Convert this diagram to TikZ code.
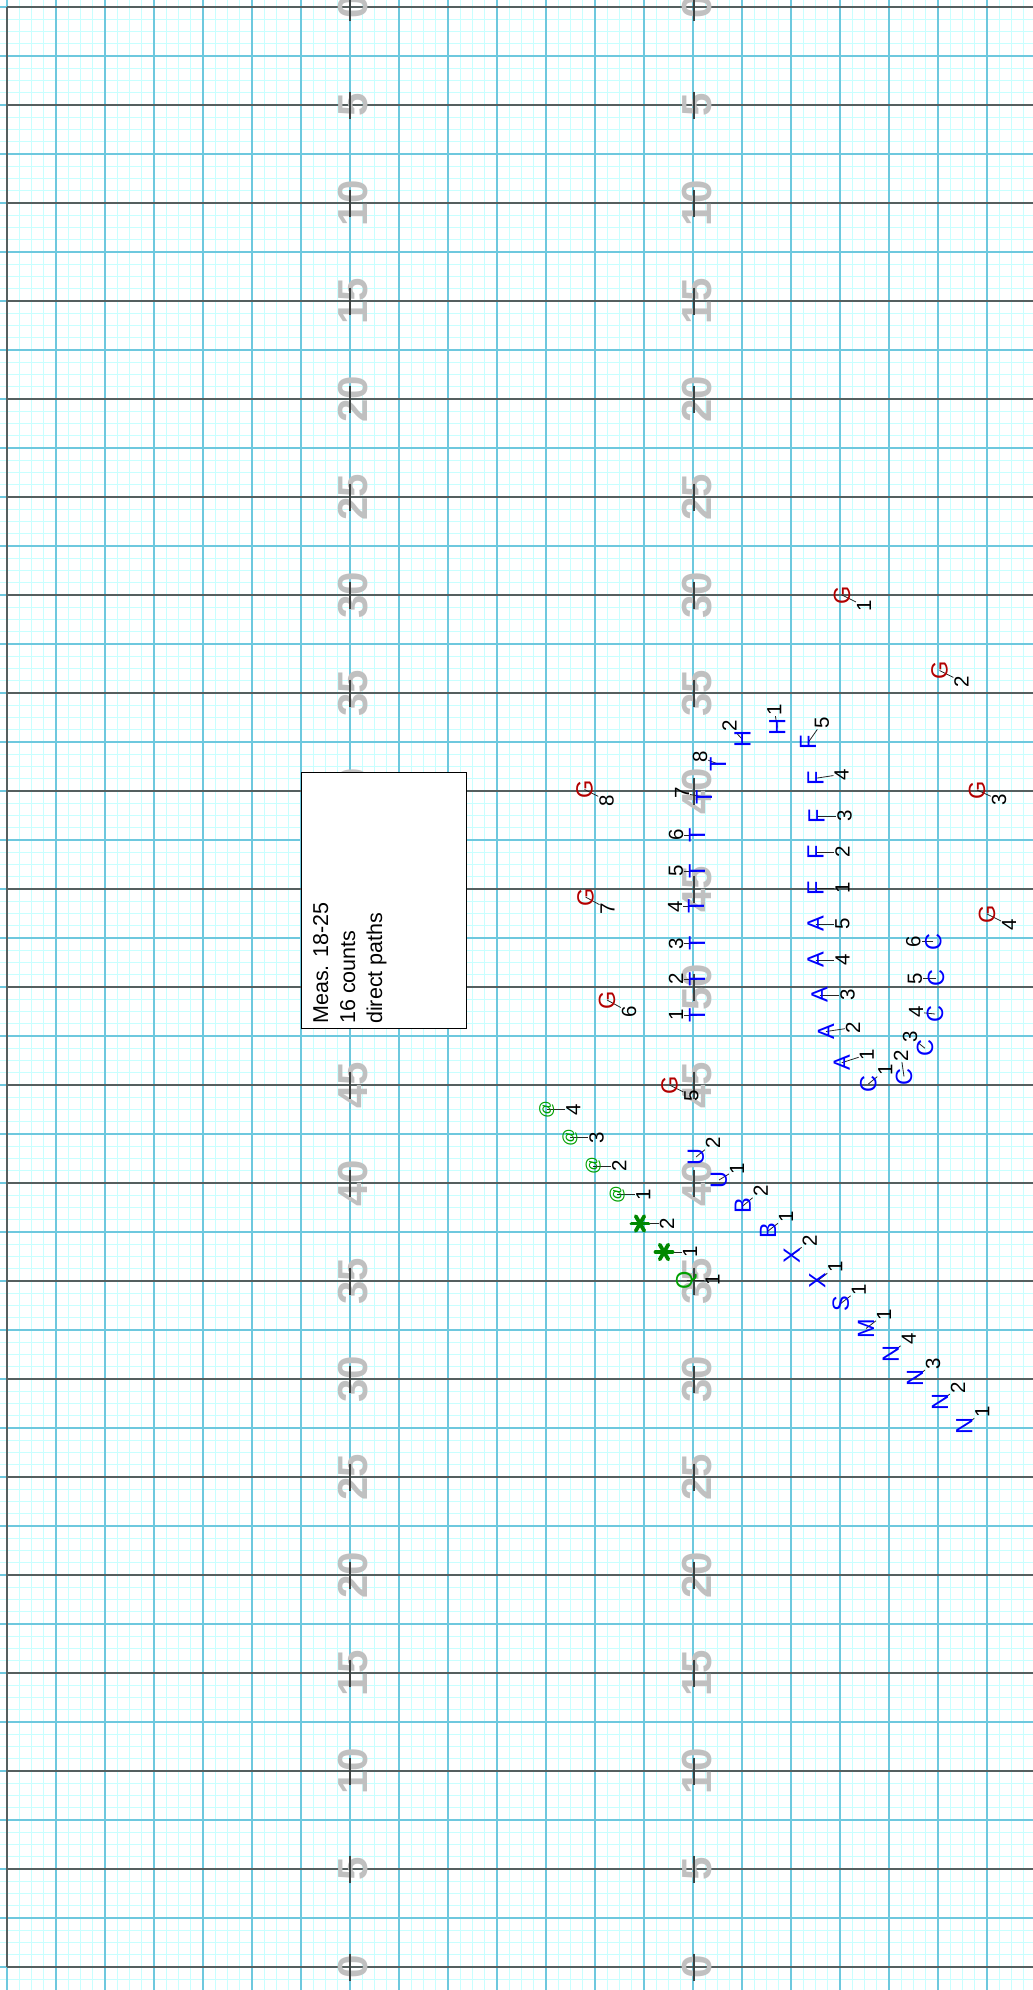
\documentclass[tikz,border=0pt]{standalone}
\usepackage{fontspec}
\setmainfont{Liberation Sans}
\definecolor{finec}{RGB}{200,255,255}
\definecolor{medc}{RGB}{110,200,222}
\definecolor{yardc}{RGB}{85,95,95}
\definecolor{numgray}{RGB}{192,192,192}
\definecolor{gred}{RGB}{178,0,0}
\definecolor{ggreen}{RGB}{0,160,0}
\tikzset{
 fineline/.style={draw=finec, line width=1.2pt},
 medline/.style={draw=medc, line width=1.1pt},
 yardline/.style={draw=yardc, line width=1.2pt},
 hashtick/.style={draw=yardc!70!black, line width=2pt},
 yardnum/.style={text=numgray, font=\fontsize{42}{42}\selectfont\bfseries, rotate=90, inner sep=0pt},
 mkblue/.style={text=blue, font=\fontsize{23.5}{24}\selectfont, rotate=90, inner sep=0pt},
 mkred/.style={mkblue, text=gred},
 mkgreen/.style={mkblue, text=ggreen},
 mkat/.style={mkgreen, font=\fontsize{17.5}{18}\selectfont},
 mkast/.style={minimum size=18pt, inner sep=0pt},
 astline/.style={draw=ggreen!85!black, line width=3.8pt, line cap=round},
 numlab/.style={text=black, font=\fontsize{20.5}{21}\selectfont, rotate=90, inner sep=0.8pt},
 leader/.style={draw=black!85, line width=0.8pt},
 notebox/.style={draw=black, fill=white, line width=1pt, inner sep=0pt, minimum width=165pt, minimum height=256.6pt},
 notetext/.style={rotate=90, align=left, font=\fontsize{21.5}{27}\selectfont, inner sep=0pt},
}
\newcommand\drillmk[8]{%
  \coordinate (#1c) at (#2,#3);
  \node[numlab] (#1n) at ({#2+#6},{#3+#7}) {#8};
  \draw[leader] (#1c) -- (#1n);
  \node[#4] (#1) at (#1c) {#5};
}
\begin{document}
\begin{tikzpicture}[x=1pt,y=-1pt]
\useasboundingbox (0,0) rectangle (1033,1990);
\clip (0,0) rectangle (1033,1990);
% fine grid
\foreach \k in {0,...,161} \draw[fineline] (0,{7+12.25*\k}) -- (1033,{7+12.25*\k});
\foreach \k in {0,...,83} \draw[fineline] ({7+12.25*\k},0) -- ({7+12.25*\k},1990);
% medium grid
\foreach \k in {0,...,40} \draw[medline] (0,{7+49*\k}) -- (1033,{7+49*\k});
\foreach \k in {0,...,20} \draw[medline] ({7+49*\k},0) -- ({7+49*\k},1990);
% yard lines and sideline
\foreach \k in {0,...,20} \draw[yardline] (7,{7+98*\k}) -- (1033,{7+98*\k});
\draw[yardline] (7,7) -- (7,1967);
% yard numbers
\foreach \k in {0,...,20}{
  \pgfmathtruncatemacro\yn{5*min(\k,20-\k)}
  \node[yardnum] (ynl\k) at (353.5,{7+98*\k}) {\yn};
  \node[yardnum] (ynr\k) at (697.5,{7+98*\k}) {\yn};
}
\foreach \k in {0,...,20}{
  \draw[hashtick] (350.3,{7+98*\k-13.5}) -- (350.3,{7+98*\k+13.5});
  \draw[hashtick] (694.3,{7+98*\k-13.5}) -- (694.3,{7+98*\k+13.5});
}
% note box
\node[notebox, anchor=north west] (meas) at (300.7,771.7) {};
\node[notetext, anchor=north west] (meastext) at (313,1024) {Meas. 18-25\\16 counts\\direct paths};
% G markers
\drillmk{G1}{842}{595}{mkred}{G}{22}{11}{1}
\drillmk{G2}{939.5}{670.5}{mkred}{G}{22}{11}{2}
\drillmk{G3}{977}{790}{mkred}{G}{22}{10}{3}
\drillmk{G4}{987}{914}{mkred}{G}{22}{11}{4}
\drillmk{G5}{669.5}{1085}{mkred}{G}{22}{11}{5}
\drillmk{G6}{607}{1000}{mkred}{G}{22}{12}{6}
\drillmk{G7}{585.5}{897}{mkred}{G}{22}{12}{7}
\drillmk{G8}{584.5}{789.5}{mkred}{G}{22}{11}{8}
% T markers
\drillmk{T1}{697}{1015}{mkblue}{T}{-21}{0}{1}
\drillmk{T2}{697}{979}{mkblue}{T}{-21}{0}{2}
\drillmk{T3}{697}{943.5}{mkblue}{T}{-21}{0}{3}
\drillmk{T4}{696}{906.5}{mkblue}{T}{-21}{0}{4}
\drillmk{T5}{697}{871}{mkblue}{T}{-21}{0}{5}
\drillmk{T6}{697}{835}{mkblue}{T}{-21}{0}{6}
\drillmk{T7}{704}{797}{mkblue}{T}{-22}{-4}{7}
\drillmk{T8}{718}{764}{mkblue}{T}{-18}{-7}{8}
% H, F, A
\drillmk{H2}{742.5}{739.5}{mkblue}{H}{-13}{-14}{2}
\drillmk{H1}{777.3}{727.5}{mkblue}{H}{-3}{-18}{1}
\drillmk{F5}{808}{742.7}{mkblue}{F}{14}{-20}{5}
\drillmk{F4}{815.5}{778.3}{mkblue}{F}{26}{-4}{4}
\drillmk{F3}{816.5}{816}{mkblue}{F}{28}{0}{3}
\drillmk{F2}{815.5}{852}{mkblue}{F}{27}{0}{2}
\drillmk{F1}{815.5}{888}{mkblue}{F}{27}{0}{1}
\drillmk{A5}{815.5}{924}{mkblue}{A}{27}{0}{5}
\drillmk{A4}{815.5}{960}{mkblue}{A}{27}{0}{4}
\drillmk{A3}{819.5}{995}{mkblue}{A}{28}{0}{3}
\drillmk{A2}{826}{1031.5}{mkblue}{A}{27}{-4}{2}
\drillmk{A1}{841.7}{1062.7}{mkblue}{A}{25}{-8}{1}
% C markers
\drillmk{C1}{868.3}{1084}{mkblue}{C}{17}{-14}{1}
\drillmk{C2}{904}{1076.5}{mkblue}{C}{-3}{-21}{2}
\drillmk{C3}{925}{1048.3}{mkblue}{C}{-15}{-12}{3}
\drillmk{C4}{935}{1014}{mkblue}{C}{-19}{-2}{4}
\drillmk{C5}{936}{978.3}{mkblue}{C}{-21}{0}{5}
\drillmk{C6}{933.3}{941.7}{mkblue}{C}{-20}{0}{6}
% green markers
\drillmk{Q1}{686.5}{1280}{mkgreen}{Q}{26}{0}{1}
\drillmk{ast1}{664}{1252}{mkast}{}{26}{0}{1}
\drillmk{ast2}{640}{1223.5}{mkast}{}{27}{0}{2}
\foreach \s in {ast1,ast2}{
  \foreach \a in {0,60,120}
    \draw[astline] ([shift={(\a:8.5pt)}]\s.center) -- ([shift={(\a+180:8.5pt)}]\s.center);
}
\drillmk{at1}{617.3}{1194.5}{mkat}{@}{26}{0}{1}
\drillmk{at2}{593.3}{1166}{mkat}{@}{26}{0}{2}
\drillmk{at3}{570}{1137.3}{mkat}{@}{26.5}{0}{3}
\drillmk{at4}{546.7}{1109.3}{mkat}{@}{26.5}{0}{4}
% diagonal blue markers
\drillmk{U2}{696}{1157}{mkblue}{U}{17}{-14}{2}
\drillmk{U1}{719}{1180}{mkblue}{U}{18}{-11}{1}
\drillmk{B2}{742.7}{1206}{mkblue}{B}{18}{-15}{2}
\drillmk{B1}{768}{1231}{mkblue}{B}{18}{-14}{1}
\drillmk{X2}{791.7}{1255.5}{mkblue}{X}{18}{-15}{2}
\drillmk{X1}{817.3}{1281}{mkblue}{X}{18}{-14}{1}
\drillmk{S1}{840.7}{1303.5}{mkblue}{S}{18}{-14}{1}
\drillmk{M1}{866}{1328.5}{mkblue}{M}{18}{-14}{1}
\drillmk{N4}{890.7}{1354}{mkblue}{N}{18}{-15}{4}
\drillmk{N3}{915}{1378.3}{mkblue}{N}{18}{-15}{3}
\drillmk{N2}{940}{1401.7}{mkblue}{N}{18}{-14}{2}
\drillmk{N1}{964.3}{1426}{mkblue}{N}{18}{-14}{1}
\end{tikzpicture}
\end{document}
